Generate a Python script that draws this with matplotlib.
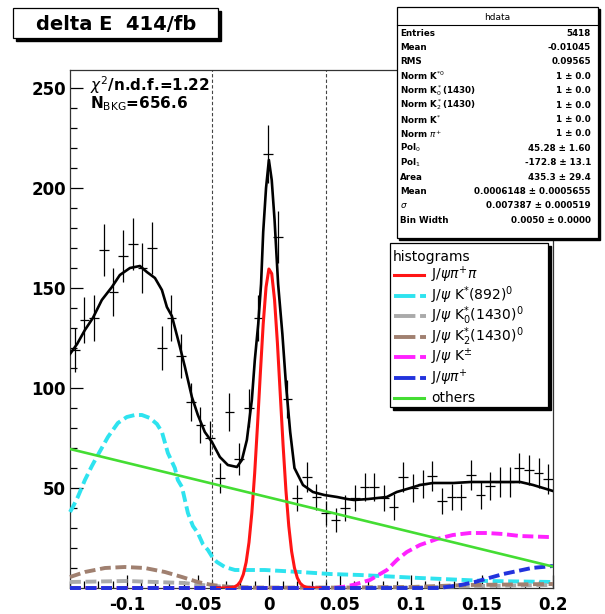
import numpy as np
import matplotlib
matplotlib.use('Agg')
import matplotlib.pyplot as plt
from matplotlib.patches import Rectangle
from matplotlib.lines import Line2D
from matplotlib.ticker import MultipleLocator

plt.rcParams['font.family'] = ['DejaVu Sans']
plt.rcParams['mathtext.fontset'] = 'dejavusans'

# histogram of delta E (50 bins from -0.14 to 0.2)
x_lo, x_hi, n_bins = -0.14, 0.2, 50
counts = [119, 134, 135, 169, 148, 166, 172, 160, 170, 120,
          135, 116, 93, 81.5, 75, 55, 88, 64.5, 90, 135,
          217, 175.5, 94.5, 45, 55.5, 45.5, 37.5, 34, 40, 45,
          50.5, 50.5, 45, 40.5, 55.5, 50, 52, 56, 43.5, 45.5,
          45.5, 56.5, 46.5, 51, 53, 53, 60, 59, 57.5, 54.5]

# total fit
fit_x = [-0.140, -0.135, -0.1295, -0.1239, -0.1176, -0.1105, -0.1049, -0.0978, -0.0908, -0.0859,
         -0.0802, -0.0753, -0.0718, -0.0683, -0.0626, -0.0591, -0.0542, -0.0500, -0.0451, -0.0401,
         -0.0345, -0.0289, -0.0225, -0.0190, -0.0155, -0.0120, -0.0099, -0.0075, -0.0055, -0.0040,
         -0.0020, 0.0000, 0.0020, 0.0040, 0.0065, 0.0095, 0.0120, 0.0150, 0.0180, 0.0240,
         0.0310, 0.0390, 0.0480, 0.0550, 0.0600, 0.0700, 0.0830, 0.0900, 0.0996, 0.1064,
         0.1155, 0.1300, 0.1420, 0.1540, 0.1680, 0.1770, 0.1860, 0.2000]
fit_y = [117, 122, 129, 135, 144, 150.5, 156.5, 160, 161, 158,
         155, 149, 140.5, 136, 120.5, 110.5, 95.5, 86.5, 78, 73,
         65.5, 61.5, 60.5, 64, 74, 94, 114, 132, 152, 178,
         200, 214, 204, 184, 152, 127, 102, 78, 60, 51.5,
         48, 46.5, 45.5, 44.5, 44, 44.5, 45.5, 48, 50, 51.5,
         52.5, 52.5, 53, 53, 53, 53, 51.5, 48.5]

# J/psi pi pi (signal)
sig_x = [-0.036, -0.034, -0.032, -0.030, -0.028, -0.026, -0.024, -0.022, -0.020, -0.018,
         -0.016, -0.014, -0.012, -0.010, -0.008, -0.006, -0.004, -0.002, 0.000, 0.002,
         0.004, 0.006, 0.008, 0.010, 0.012, 0.014, 0.016, 0.018, 0.020, 0.022,
         0.024, 0.026, 0.028, 0.030, 0.032, 0.034, 0.036]
sig_y = [0.0, 0.0, 0.01, 0.03, 0.09, 0.25, 0.63, 1.5, 3.3, 6.8,
         12.9, 22.8, 37.5, 57.4, 81.5, 107.5, 132, 150.4, 159.5, 157.2,
         144, 122.6, 97, 71.4, 48.8, 31, 18.3, 10.1, 5.1, 2.4,
         1.1, 0.44, 0.17, 0.06, 0.02, 0.0, 0.0]

# J/psi K*(892)0
kst_x = [-0.140, -0.138, -0.1345, -0.1295, -0.1246, -0.1204, -0.1133, -0.1063, -0.100, -0.0943,
         -0.0894, -0.0838, -0.0788, -0.0753, -0.0711, -0.0662, -0.0641, -0.0612, -0.057, -0.0535,
         -0.050, -0.0465, -0.0429, -0.0394, -0.0366, -0.031, -0.0239, -0.0028, 0.0218, 0.043,
         0.064, 0.1063, 0.1535, 0.2]
kst_y = [38, 40.5, 45.5, 54, 61, 66.5, 75.5, 82.5, 85.5, 86.5,
         86.5, 85, 82, 78, 67.5, 60, 54, 50.5, 37.5, 31,
         27.5, 22, 19, 15, 13, 10.5, 9, 9, 8, 7,
         6.5, 5, 3.5, 3]

# J/psi K0*(1430)0
k0_x = [-0.14, -0.10, -0.06, -0.04, -0.02, 0.0, 0.1, 0.15, 0.2]
k0_y = [3, 3.5, 2.5, 1, 0.3, 0, 0.3, 1, 1.5]

# J/psi K2*(1430)0
k2_x = [-0.14, -0.1295, -0.1154, -0.1014, -0.0873, -0.0732, -0.0612, -0.05, -0.0401, -0.0275,
        -0.01, 0.05, 0.1, 0.14, 0.2]
k2_y = [5.5, 8, 10, 10.5, 10, 8, 5.5, 3, 1.5, 0.5,
        0.2, 0.2, 0.5, 1.5, 2]

# J/psi K+-
kpm_x = [-0.14, 0.046, 0.052, 0.0591, 0.0711, 0.0831, 0.0901, 0.0971, 0.1063, 0.1183,
         0.1295, 0.1415, 0.1535, 0.1647, 0.1767, 0.1964, 0.2]
kpm_y = [0, 0, 0.5, 1.5, 4, 9, 14, 18, 21.5, 24.5,
         26.5, 27.5, 27.5, 27, 26, 25.5, 25.5]

# J/psi pi+
pi_x = [-0.14, 0.12, 0.125, 0.135, 0.145, 0.155, 0.165, 0.175, 0.185, 0.2]
pi_y = [0, 0, 0.5, 1.5, 3, 5, 7, 8.5, 10, 11]

# others (pol1)
bkg_x = [-0.14, 0.2]
bkg_y = [69.5, 10.7]

cuts = [-0.04, 0.04]

xtick_vals = [-0.1, -0.05, 0, 0.05, 0.1, 0.15, 0.2]
xtick_text = ['-0.1', '-0.05', '0', '0.05', '0.1', '0.15', '0.2']
ytick_vals = [50, 100, 150, 200, 250]

stat_names = ['Entries', 'Mean', 'RMS', r'Norm K$^{*0}$', r'Norm K$_0^*$(1430)',
              r'Norm K$_2^*$(1430)', r'Norm K$^{*}$', r'Norm $\pi^{+}$', r'Pol$_0$', r'Pol$_1$',
              'Area', 'Mean', r'$\sigma$', 'Bin Width']
stat_vals = ['5418', '-0.01045', '0.09565', '1 ± 0.0', '1 ± 0.0',
             '1 ± 0.0', '1 ± 0.0', '1 ± 0.0', '45.28 ± 1.60', '-172.8 ± 13.1',
             '435.3 ± 29.4', '0.0006148 ± 0.0005655', '0.007387 ± 0.000519', '0.0050 ± 0.0000']

leg_labels = [r'J/$\psi\pi^{+}\pi$', r'J/$\psi$ K$^{*}$(892)$^{0}$', r'J/$\psi$ K$_0^{*}$(1430)$^{0}$',
              r'J/$\psi$ K$_2^{*}$(1430)$^{0}$', r'J/$\psi$ K$^{\pm}$', r'J/$\psi\pi^{+}$', 'others']

# ---- figure
W, H = 605, 614
fig = plt.figure(figsize=(W / 100, H / 100), dpi=100)

def fx(px):
    return px / W

def fy(py):
    return 1 - py / H

ax = fig.add_axes([fx(70), fy(588), fx(553) - fx(70), fy(70) - fy(588)])

edges = np.linspace(x_lo, x_hi, n_bins + 1)
centers = 0.5 * (edges[:-1] + edges[1:])
cnt = np.array(counts)
ax.errorbar(centers, cnt, yerr=np.sqrt(cnt), xerr=0.5 * (edges[1] - edges[0]),
            fmt='none', ecolor='black', elinewidth=0.9, capsize=0, zorder=3)

ax.plot(fit_x, fit_y, color='black', lw=1.9, zorder=4)

comp_style = dict(lw=2.8, dashes=(2.8, 1.2), clip_on=False, zorder=5)
ax.plot(sig_x, sig_y, color='#ff1515', lw=2.2, zorder=6)
ax.plot(kst_x, kst_y, color='#2ee3ef', **comp_style)
ax.plot(k0_x, k0_y, color='#aaaaaa', **comp_style)
ax.plot(k2_x, k2_y, color='#a08070', **comp_style)
ax.plot(kpm_x, kpm_y, color='#ff22ff', **comp_style)
ax.plot(pi_x, pi_y, color='#2233dd', **comp_style)
ax.plot(bkg_x, bkg_y, color='#44dd33', lw=1.9, zorder=6)

for c in cuts:
    ax.axvline(c, color='#444444', lw=0.8, ls=(0, (3, 2)), zorder=2)

ax.set_xlim(x_lo, x_hi)
ax.set_ylim(0, 259)
ax.set_xticks(xtick_vals)
ax.set_xticklabels(xtick_text)
ax.set_yticks(ytick_vals)
ax.xaxis.set_minor_locator(MultipleLocator(0.01))
ax.yaxis.set_minor_locator(MultipleLocator(10))
ax.tick_params(which='both', direction='in', top=False, right=False, labelsize=12)
ax.tick_params(which='major', length=9.5, width=0.9)
ax.tick_params(which='minor', length=5, width=0.9)
ax.tick_params(axis='x', pad=6)
ax.tick_params(axis='y', pad=3)
for lab in ax.get_xticklabels() + ax.get_yticklabels():
    lab.set_fontweight('bold')
for sp in ax.spines.values():
    sp.set_linewidth(0.9)
    sp.set_color('#333333')

fig.text(fx(90), fy(85), r'$\chi^2$/n.d.f.=1.22', fontsize=11, fontweight='bold', va='center')
fig.text(fx(90), fy(104), r'N$_{\rm BKG}$=656.6', fontsize=11, fontweight='bold', va='center')


def box(x0, y0, x1, y1, shadow=3):
    fig.add_artist(Rectangle((fx(x0 + shadow), fy(y1 + shadow)), fx(x1) - fx(x0), fy(y0) - fy(y1),
                             transform=fig.transFigure, facecolor='black', edgecolor='black', zorder=10))
    fig.add_artist(Rectangle((fx(x0), fy(y1)), fx(x1) - fx(x0), fy(y0) - fy(y1),
                             transform=fig.transFigure, facecolor='white', edgecolor='black',
                             lw=0.9, zorder=11))


# title box
box(13, 8, 218, 38)
fig.text(fx(116), fy(24), 'delta E  414/fb', fontsize=14, fontweight='bold',
         ha='center', va='center', zorder=12)

# stats box
box(397, 7, 598, 238, shadow=2)
fig.text(fx(497), fy(17), 'hdata', fontsize=6.5, ha='center', va='center', zorder=12)
fig.add_artist(Line2D([fx(397), fx(598)], [fy(25), fy(25)], color='black', lw=0.8,
                      transform=fig.transFigure, zorder=12))
for i, (nm, vl) in enumerate(zip(stat_names, stat_vals)):
    yy = 33 + 14.4 * i
    fig.text(fx(400), fy(yy), nm, fontsize=6.3, fontweight='bold', va='center', zorder=12)
    fig.text(fx(591), fy(yy), vl, fontsize=6.3, fontweight='bold', va='center', ha='right', zorder=12)

# legend box
box(390, 243, 548, 407, shadow=3)
fig.text(fx(393), fy(257), 'histograms', fontsize=10, va='center', zorder=12)
leg_colors = ['#ff1515', '#2ee3ef', '#aaaaaa', '#a08070', '#ff22ff', '#2233dd', '#44dd33']
for i, (lb, col) in enumerate(zip(leg_labels, leg_colors)):
    yy = 275 + 20.5 * i
    if i == 0 or i == 6:
        ln = Line2D([fx(394), fx(424)], [fy(yy), fy(yy)], color=col, lw=2.2,
                    transform=fig.transFigure, zorder=12)
    else:
        ln = Line2D([fx(394), fx(426)], [fy(yy), fy(yy)], color=col, lw=2.8, dashes=(5.5, 1.2),
                    transform=fig.transFigure, zorder=12)
    fig.add_artist(ln)
    fig.text(fx(431), fy(yy), lb, fontsize=10, va='center', zorder=12)

fig.savefig('out.png', dpi=100)
